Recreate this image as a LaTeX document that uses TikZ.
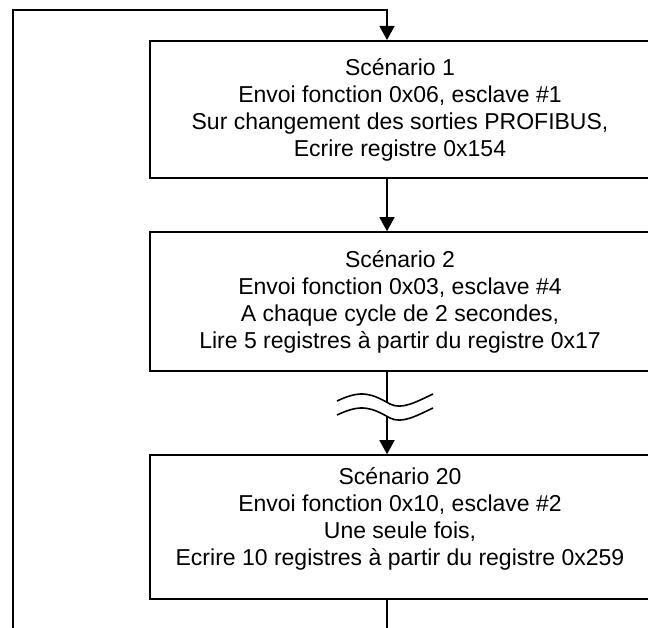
\documentclass[tikz,border=0pt]{standalone}
\usepackage{fontspec}
\setmainfont{Liberation Sans}
\usetikzlibrary{arrows.meta}
\tikzset{scenario/.style={draw, line width=1.6pt, minimum width=500pt,
         align=center, inner sep=0pt,
         font=\fontsize{23}{27}\selectfont},
         flow/.style={line width=1.6pt, -{Triangle[length=14pt,width=15pt]}},
         wave/.style={line width=1.6pt}}

\begin{document}
\begin{tikzpicture}[x=1pt, y=-1pt]
\useasboundingbox (0,0) rectangle (648,627);
\coordinate (axis) at (387,0);
\node[scenario, minimum height=137.5pt] (sc1) at (400,109.5)
  {Scénario 1\\Envoi fonction 0x06, esclave \#1\\Sur changement des sorties PROFIBUS,\\Ecrire registre 0x154};
\node[scenario, minimum height=139pt] (sc2) at (400,301.5)
  {Scénario 2\\Envoi fonction 0x03, esclave \#4\\A chaque cycle de 2 secondes,\\Lire 5 registres à partir du registre 0x17};
\node[scenario, minimum height=144pt] (sc20) at (400,527)
  {Scénario 20\\Envoi fonction 0x10, esclave \#2\\Une seule fois,\\Ecrire 10 registres à partir du registre 0x259\\[-6pt]};
% break in the chain
\draw[wave] (337,401) .. controls (362,389) and (372,394) .. (390,404) .. controls (402,410) and (416,402) .. (433,394);
\draw[wave] (337,415) .. controls (362,403) and (372,408) .. (390,418) .. controls (402,424) and (416,416) .. (433,408);
\coordinate (cut1) at (387,403);
\coordinate (cut2) at (387,417);
\draw[flow] (sc1.south -| axis) -- (sc2.north -| axis);
\draw[wave] (sc2.south -| axis) -- (cut1);
\draw[flow] (cut2) -- (sc20.north -| axis);
% back to the first scenario
\draw[flow] (sc20.south -| axis) -- (387,640) -- (13,640) -- (13,10) -- (387,10) -- (sc1.north -| axis);
\end{tikzpicture}
\end{document}
